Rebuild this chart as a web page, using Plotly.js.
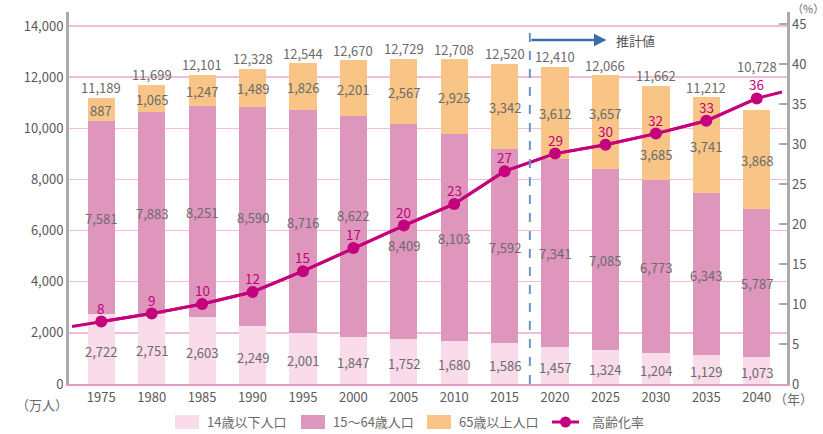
<!DOCTYPE html>
<html>
<head>
<meta charset="utf-8">
<script src="https://cdn.plot.ly/plotly-3.0.1.min.js"></script>
<style>
  html, body { margin: 0; padding: 0; background: #fff; }
  #chart { width: 823px; height: 434px; }
</style>
</head>
<body>
<div id="chart"></div>
<script>
// ---- data ----
const years = [1975, 1980, 1985, 1990, 1995, 2000, 2005, 2010, 2015, 2020, 2025, 2030, 2035, 2040];
const under14 = [2722, 2751, 2603, 2249, 2001, 1847, 1752, 1680, 1586, 1457, 1324, 1204, 1129, 1073];
const age15to64 = [7581, 7883, 8251, 8590, 8716, 8622, 8409, 8103, 7592, 7341, 7085, 6773, 6343, 5787];
const over65 = [887, 1065, 1247, 1489, 1826, 2201, 2567, 2925, 3342, 3612, 3657, 3685, 3741, 3868];
const totals = [11189, 11699, 12101, 12328, 12544, 12670, 12729, 12708, 12520, 12410, 12066, 11662, 11212, 10728];
const agingRate = [7.8, 8.8, 10.0, 11.5, 14.1, 17.0, 19.8, 22.5, 26.6, 28.8, 29.9, 31.3, 32.9, 35.7];
const agingRateLabels = ['8', '9', '10', '12', '15', '17', '20', '23', '27', '29', '30', '32', '33', '36'];
const rateLeadIn = { year: 1972.1, rate: 7.2 };
const rateLeadOut = { year: 2042.5, rate: 36.5 };
const projectionStart = 2017.5;
const seriesNames = ['14歳以下人口', '15〜64歳人口', '65歳以上人口', '高齢化率'];

// ---- styles ----
const FONT = '"Noto Sans CJK JP", "Noto Sans", sans-serif';
const C_U14 = '#fadbea';
const C_MID = '#de96bd';
const C_65 = '#f8c586';
const C_LINE = '#c5007d';
const C_TXT = '#6b6b6b';
const C_AX = '#ababab';

// plot area geometry (pixels) for paper-space decorations
const PL = 69, PR = 787, PT = 12, PB = 384;
const px = x => (x - PL) / (PR - PL);
const py = y => (PB - y) / (PB - PT);

// label nudges (pixels, + = up)
const midShift = { 2000: 12, 2005: -13 };
const topShift = { 2025: 10, 2030: -21 };
const totalShift = { 2040: 33 };

const fmt = v => v.toLocaleString('en-US');

const traces = [
  { type: 'bar', name: seriesNames[0], x: years, y: under14, width: 2.7,
    marker: { color: C_U14 }, hoverinfo: 'skip' },
  { type: 'bar', name: seriesNames[1], x: years, y: age15to64, width: 2.7,
    marker: { color: C_MID }, hoverinfo: 'skip' },
  { type: 'bar', name: seriesNames[2], x: years, y: over65, width: 2.7,
    marker: { color: C_65 }, hoverinfo: 'skip' },
  { type: 'scatter', mode: 'lines', yaxis: 'y2', hoverinfo: 'skip',
    x: [rateLeadIn.year].concat(years, [rateLeadOut.year]),
    y: [rateLeadIn.rate].concat(agingRate, [rateLeadOut.rate]),
    line: { color: C_LINE, width: 3 } },
  { type: 'scatter', mode: 'lines+markers', name: seriesNames[3], yaxis: 'y2', hoverinfo: 'skip',
    x: years, y: agingRate,
    line: { color: C_LINE, width: 3 }, marker: { color: C_LINE, size: 12 } }
];

const annotations = [];
const lblFont = { size: 13, color: C_TXT, family: FONT };
years.forEach((yr, i) => {
  const b = under14[i], m = age15to64[i], t = over65[i];
  annotations.push({ x: yr, y: b / 2, xref: 'x', yref: 'y', text: fmt(b), showarrow: false,
    font: lblFont, yshift: -2 });
  annotations.push({ x: yr, y: b + m / 2, xref: 'x', yref: 'y', text: fmt(m), showarrow: false,
    font: lblFont, yshift: (midShift[yr] || 0) - 1 });
  annotations.push({ x: yr, y: b + m + t / 2, xref: 'x', yref: 'y', text: fmt(t), showarrow: false,
    font: lblFont, yshift: (topShift[yr] || 0) - 1 });
  annotations.push({ x: yr, y: totals[i], xref: 'x', yref: 'y', text: fmt(totals[i]), showarrow: false,
    font: lblFont, yshift: 10 + (totalShift[yr] || 0) });
  annotations.push({ x: yr, y: agingRate[i], xref: 'x', yref: 'y2', text: agingRateLabels[i], showarrow: false,
    font: { size: 13.5, color: C_LINE, family: FONT }, yshift: 14 });
});

// axis unit labels & projection marker
annotations.push({ xref: 'paper', yref: 'paper', x: px(42), y: py(404), text: '（万人）', showarrow: false,
  xanchor: 'center', yanchor: 'middle', font: { size: 13, color: C_TXT, family: FONT } });
annotations.push({ xref: 'paper', yref: 'paper', x: px(772), y: py(398.5), text: '（年）', showarrow: false,
  xanchor: 'left', yanchor: 'middle', font: { size: 13, color: C_TXT, family: FONT } });
annotations.push({ xref: 'paper', yref: 'paper', x: px(808), y: py(8), text: '（%）', showarrow: false,
  xanchor: 'center', yanchor: 'middle', font: { size: 11, color: C_TXT, family: FONT } });
annotations.push({ xref: 'x', yref: 'paper', x: projectionStart + 7.6, y: py(40), axref: 'x', ax: projectionStart,
  ay: 0, text: '', showarrow: true, arrowhead: 2, arrowsize: 1, arrowwidth: 2.5, arrowcolor: '#3b6ea6' });
annotations.push({ xref: 'paper', yref: 'paper', x: px(614), y: py(40), text: '推計値', showarrow: false,
  xanchor: 'left', yanchor: 'middle', font: { size: 13, color: '#555', family: FONT } });

// custom legend (wide swatches like the reference)
const shapes = [
  { type: 'line', xref: 'x', yref: 'paper', x0: projectionStart, x1: projectionStart, y0: 0, y1: py(28),
    line: { color: '#6b96c2', width: 2, dash: 'dash' } }
];
const legY = 422;
const legendItems = [
  { sx: 175, tx: 205, color: C_U14, name: seriesNames[0] },
  { sx: 301, tx: 331, color: C_MID, name: seriesNames[1] },
  { sx: 427, tx: 457, color: C_65, name: seriesNames[2] }
];
legendItems.forEach(it => {
  shapes.push({ type: 'rect', xref: 'paper', yref: 'paper', x0: px(it.sx), x1: px(it.sx + 24),
    y0: py(legY - 7), y1: py(legY + 7), fillcolor: it.color, line: { width: 0 } });
  annotations.push({ xref: 'paper', yref: 'paper', x: px(it.tx), y: py(legY), text: it.name, showarrow: false,
    xanchor: 'left', yanchor: 'middle', font: { size: 13, color: C_TXT, family: FONT } });
});
shapes.push({ type: 'line', xref: 'paper', yref: 'paper', x0: px(552), x1: px(579), y0: py(legY), y1: py(legY),
  line: { color: C_LINE, width: 3 } });
shapes.push({ type: 'circle', xref: 'paper', yref: 'paper', x0: px(560), x1: px(571), y0: py(legY - 5.5), y1: py(legY + 5.5),
  fillcolor: C_LINE, line: { width: 0 } });
annotations.push({ xref: 'paper', yref: 'paper', x: px(590), y: py(legY), text: seriesNames[3], showarrow: false,
  xanchor: 'left', yanchor: 'middle', font: { size: 13, color: C_TXT, family: FONT } });

const layout = {
  width: 823, height: 434,
  margin: { l: PL, r: 823 - PR, t: PT, b: 434 - PB },
  paper_bgcolor: '#fff', plot_bgcolor: '#fff',
  barmode: 'stack',
  font: { family: FONT, size: 13, color: '#5a5a5a' },
  showlegend: false,
  xaxis: {
    range: [1971.8, 2043], tickvals: years, ticktext: years.map(String),
    ticks: '', showgrid: false, zeroline: false,
    showline: true, linecolor: '#e59ac4', linewidth: 2,
    tickfont: { size: 13, color: '#5a5a5a' }
  },
  yaxis: {
    range: [0, 14547], dtick: 2000, tickformat: ',d',
    showgrid: true, gridcolor: '#f3bdd9', gridwidth: 1.5, zeroline: false,
    showline: true, linecolor: C_AX, linewidth: 3, ticks: '',
    tickfont: { size: 13, color: '#5a5a5a' }
  },
  yaxis2: {
    overlaying: 'y', side: 'right', range: [0, 46.5], dtick: 5,
    showgrid: false, zeroline: false,
    showline: true, linecolor: C_AX, linewidth: 2.5,
    ticks: 'inside', ticklen: 8, tickwidth: 2, tickcolor: C_AX,
    tickfont: { size: 13, color: '#5a5a5a' }
  },
  shapes: shapes,
  annotations: annotations
};

Plotly.newPlot('chart', traces, layout, { displayModeBar: false, staticPlot: true });
</script>
</body>
</html>
